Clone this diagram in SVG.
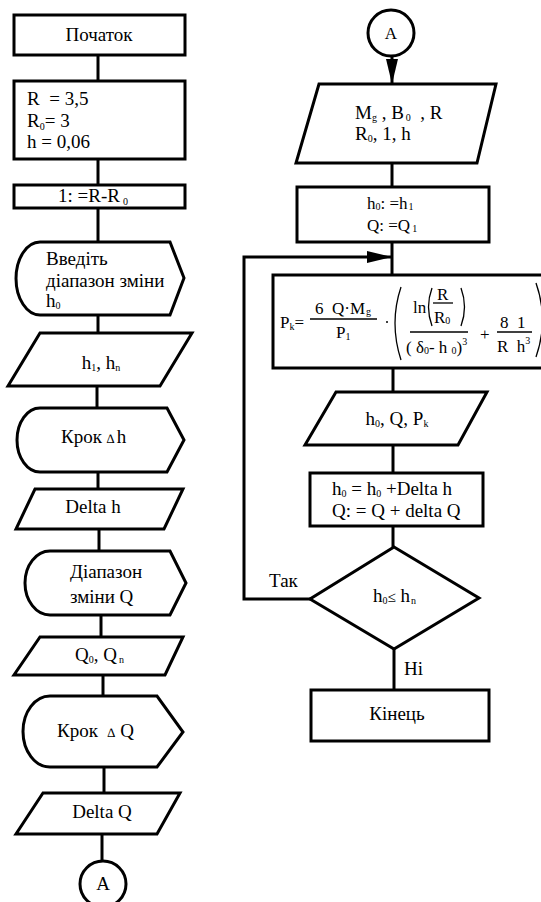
<svg xmlns="http://www.w3.org/2000/svg" width="541" height="902" viewBox="0 0 541 902">
  <defs>
    <style>
      .shape { fill: #fff; stroke: #000; stroke-width: 3; stroke-linejoin: miter; }
      .wire { fill: none; stroke: #000; stroke-width: 3; }
      .thin { fill: none; stroke: #000; stroke-width: 1.3; }
      text { font-family: "Liberation Serif", "DejaVu Serif", serif; fill: #000; }
      .t { font-size: 19px; }
      .f { font-size: 17px; }
      .s { font-size: 10px; }
    </style>
    <marker id="head" markerUnits="userSpaceOnUse" markerWidth="26" markerHeight="12" refX="25" refY="6" orient="auto">
      <path d="M0,0 L25,6 L0,12 Z" fill="#000"/>
    </marker>
  </defs>
  <rect width="541" height="902" fill="#fff"/>

  <!-- connectors -->
  <g id="connectors">
    <line class="wire" x1="98" y1="55" x2="98" y2="81"/>
    <line class="wire" x1="98" y1="159" x2="98" y2="185"/>
    <line class="wire" x1="98" y1="208" x2="98" y2="242"/>
    <line class="wire" x1="98" y1="315" x2="98" y2="333"/>
    <line class="wire" x1="97" y1="386" x2="97" y2="408"/>
    <line class="wire" x1="98" y1="472" x2="98" y2="489"/>
    <line class="wire" x1="99" y1="529" x2="99" y2="551"/>
    <line class="wire" x1="101" y1="615" x2="101" y2="637"/>
    <line class="wire" x1="103" y1="675" x2="103" y2="696"/>
    <line class="wire" x1="104" y1="767" x2="104" y2="793"/>
    <line class="wire" x1="102" y1="834" x2="102" y2="861"/>

    <line class="wire" x1="392" y1="56" x2="392" y2="84" marker-end="url(#head)"/>
    <line class="wire" x1="392" y1="163" x2="392" y2="187"/>
    <line class="wire" x1="392" y1="242" x2="392" y2="275"/>
    <polyline class="wire" points="310,599 244,599 244,257 392,257" marker-end="url(#head)"/>
    <line class="wire" x1="393" y1="368" x2="393" y2="392"/>
    <line class="wire" x1="393" y1="445" x2="393" y2="473"/>
    <line class="wire" x1="393" y1="526" x2="393" y2="547"/>
    <line class="wire" x1="394" y1="649" x2="394" y2="690"/>
    <text class="t" x="269" y="587">Так</text>
    <text class="t" x="404" y="675">Ні</text>
  </g>

  <!-- left column -->
  <g id="start">
    <rect class="shape" x="14" y="15" width="171" height="40"/>
    <text class="t" x="99" y="41" text-anchor="middle">Початок</text>
  </g>

  <g id="constants">
    <rect class="shape" x="14" y="81" width="171" height="78"/>
    <text class="t" x="27" y="105" xml:space="preserve">R  = 3,5</text>
    <text class="t" x="27" y="127">R<tspan class="s" dy="3">0</tspan><tspan dy="-3">= 3</tspan></text>
    <text class="t" x="27" y="148">h = 0,06</text>
  </g>

  <g id="length">
    <rect class="shape" x="14" y="185" width="171" height="23"/>
    <text class="t" x="58" y="202">1: =R-R<tspan class="s" dx="3" dy="3">0</tspan></text>
  </g>

  <g id="prompt-h">
    <path class="shape" d="M40,242 L170,242 L184,278 L170,315 L40,315 A24,36.5 0 0 1 40,242 Z"/>
    <text class="t" x="46" y="265">Введіть</text>
    <text class="t" x="46" y="287">діапазон зміни</text>
    <text class="t" x="46" y="307">h<tspan class="s" dy="2">0</tspan></text>
  </g>

  <g id="input-h">
    <polygon class="shape" points="40,333 192,333 160,386 8,386"/>
    <text class="t" x="101" y="369" text-anchor="middle">h<tspan class="s" dy="2">1</tspan><tspan dy="-2">, h</tspan><tspan class="s" dy="2">n</tspan></text>
  </g>

  <g id="prompt-step-h">
    <path class="shape" d="M40,408 L167,408 L184,440 L167,472 L40,472 A23,32 0 0 1 40,408 Z"/>
    <text class="t" x="61" y="443">Крок <tspan font-size="13">∆</tspan><tspan dx="2">h</tspan></text>
  </g>

  <g id="input-delta-h">
    <polygon class="shape" points="35,489 183,489 164,529 16,529"/>
    <text class="t" x="93" y="513" text-anchor="middle">Delta h</text>
  </g>

  <g id="prompt-q">
    <path class="shape" d="M50,551 L170,551 L186,583 L170,615 L50,615 A25,32 0 0 1 50,551 Z"/>
    <text class="t" x="70" y="578">Діапазон</text>
    <text class="t" x="70" y="603">зміни Q</text>
  </g>

  <g id="input-q">
    <polygon class="shape" points="40,637 183,637 165,675 14,675"/>
    <text class="t" x="75" y="661">Q<tspan class="s" dy="2">0</tspan><tspan dy="-2">, Q</tspan><tspan class="s" dx="2" dy="2">n</tspan></text>
  </g>

  <g id="prompt-step-q">
    <path class="shape" d="M50,696 L157,696 L183,732 L157,767 L50,767 A27,35.5 0 0 1 50,696 Z"/>
    <text class="t" x="57" y="737" xml:space="preserve">Крок  <tspan font-size="13">∆</tspan> Q</text>
  </g>

  <g id="input-delta-q">
    <polygon class="shape" points="43,793 180,793 157,834 16,834"/>
    <text class="t" x="102" y="818" text-anchor="middle">Delta Q</text>
  </g>

  <g id="link-out">
    <circle class="shape" cx="103" cy="884" r="23"/>
    <text class="t" x="103" y="890" text-anchor="middle">A</text>
  </g>

  <!-- right column -->
  <g id="link-in">
    <circle class="shape" cx="391" cy="33" r="23"/>
    <text class="f" x="391" y="39" text-anchor="middle">A</text>
  </g>

  <g id="input-params">
    <polygon class="shape" points="319,84 496,84 477,163 296,163"/>
    <text class="t" x="355" y="119" xml:space="preserve">M<tspan class="s" dy="2">g</tspan><tspan dy="-2"> , B</tspan><tspan class="s" dx="2" dy="2">0</tspan><tspan dy="-2">  , R</tspan></text>
    <text class="t" x="355" y="140">R<tspan class="s" dy="2">0</tspan><tspan dy="-2">, 1, h</tspan></text>
  </g>

  <g id="init">
    <rect class="shape" x="297" y="187" width="192" height="55"/>
    <text class="f" x="367" y="209">h<tspan class="s" dy="1">0</tspan><tspan dy="-1">: =h</tspan><tspan class="s" dx="1" dy="1">1</tspan></text>
    <text class="f" x="367" y="231">Q: =Q<tspan class="s" dx="2" dy="1">1</tspan></text>
  </g>

  <g id="formula">
    <rect class="shape" x="273" y="275" width="290" height="93"/>
    <text class="f" x="280" y="328">P<tspan class="s" dy="2">k</tspan><tspan dy="-2">=</tspan></text>
    <text class="f" x="315" y="314" xml:space="preserve">6  Q·M<tspan class="s" dx="1" dy="1">g</tspan></text>
    <line class="thin" x1="310" y1="319" x2="377" y2="319"/>
    <text class="f" x="336" y="338">P<tspan class="s" dy="2">1</tspan></text>
    <circle cx="387" cy="322" r="1" fill="#000"/>
    <path class="thin" d="M401,287 Q389,323 401,360"/>
    <text class="f" x="413" y="313">ln</text>
    <path class="thin" d="M432,288 Q425,307 432,326"/>
    <text class="f" x="437" y="300">R</text>
    <line class="thin" x1="433" y1="303" x2="453" y2="303"/>
    <text class="f" x="434" y="323">R<tspan class="s" dy="1">0</tspan></text>
    <path class="thin" d="M461,288 Q468,307 461,326"/>
    <line class="thin" x1="410" y1="332" x2="468" y2="332"/>
    <text class="f" x="406" y="353" font-size="16" xml:space="preserve">( δ<tspan class="s" dy="1">0</tspan><tspan dy="-1">- h </tspan><tspan class="s" dy="1">0</tspan><tspan dy="-1">)</tspan><tspan class="s" dy="-8">3</tspan></text>
    <text class="f" x="480" y="340">+</text>
    <text class="f" x="500" y="328" xml:space="preserve">8  1</text>
    <line class="thin" x1="497" y1="332" x2="532" y2="332"/>
    <text class="f" x="497" y="352" xml:space="preserve">R  h<tspan class="s" dy="-8">3</tspan></text>
    <path class="thin" d="M536,283 Q549,320 536,357"/>
  </g>

  <g id="output">
    <polygon class="shape" points="336,392 487,392 458,445 305,445"/>
    <text class="t" x="397" y="425" text-anchor="middle">h<tspan class="s" dy="2">0</tspan><tspan dy="-2">, Q, P</tspan><tspan class="s" dy="2">k</tspan></text>
  </g>

  <g id="step">
    <rect class="shape" x="310" y="473" width="173" height="53"/>
    <text class="t" x="332" y="495">h<tspan class="s" dy="2">0</tspan><tspan dy="-2"> = h</tspan><tspan class="s" dy="2">0</tspan><tspan dy="-2"> +Delta h</tspan></text>
    <text class="t" x="332" y="517">Q: = Q + delta Q</text>
  </g>

  <g id="check">
    <polygon class="shape" points="394,547 479,598 394,649 310,599"/>
    <text class="t" x="373" y="602">h<tspan class="s" dy="2">0</tspan><tspan dy="-2" font-size="15">≤</tspan><tspan> h</tspan><tspan class="s" dx="1" dy="2">n</tspan></text>
  </g>

  <g id="end">
    <rect class="shape" x="311" y="690" width="178" height="51"/>
    <text class="t" x="397" y="720" text-anchor="middle">Кінець</text>
  </g>
</svg>
